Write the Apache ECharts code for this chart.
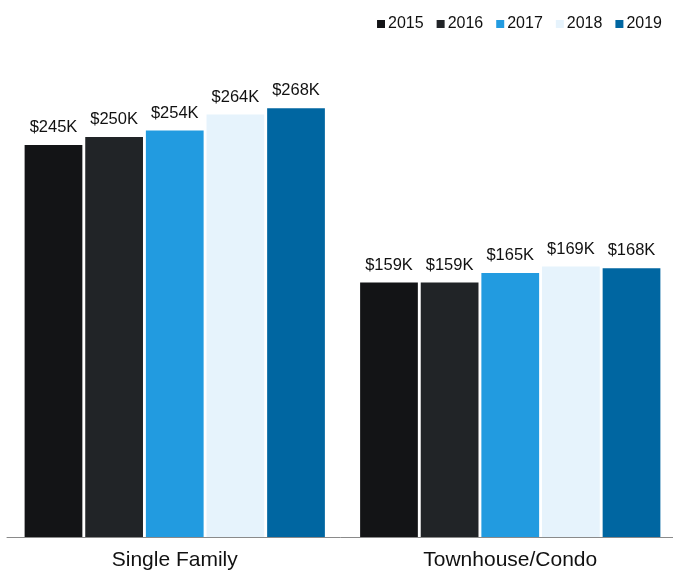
<!DOCTYPE html>
<html><head><meta charset="utf-8">
<script src="https://cdn.jsdelivr.net/npm/echarts@6/dist/echarts.min.js"></script>
<style>html,body{margin:0;padding:0;background:#fff}#c{width:673px;height:572px}</style>
</head><body><div id="c"></div>
<script>
const categories = ['Single Family', 'Townhouse/Condo'];
const years = ['2015', '2016', '2017', '2018', '2019'];
const v2015 = [245, 159];
const v2016 = [250, 159];
const v2017 = [254, 165];
const v2018 = [264, 169];
const v2019 = [268, 168];
const seriesValues = [v2015, v2016, v2017, v2018, v2019];
const colors = ['#131416', '#212427', '#229be0', '#e6f3fc', '#0066a1'];

const chart = echarts.init(document.getElementById('c'), null, {renderer: 'canvas'});
chart.setOption({
  animation: false,
  textStyle: {fontFamily: 'Liberation Sans, Arial, sans-serif'},
  legend: {
    top: 11, right: 6,
    itemWidth: 8, itemHeight: 8, itemGap: 13,
    icon: 'rect',
    textStyle: {fontSize: 16, color: '#111', padding: [0, 0, 0, -2]},
    data: years
  },
  grid: {left: 7, width: 671, top: 57, bottom: 35, containLabel: false, outerBoundsMode: 'none'},
  xAxis: {
    type: 'category', data: categories,
    axisLine: {lineStyle: {color: '#8a8a8a', width: 1}},
    axisTick: {show: false},
    axisLabel: {fontSize: 21, color: '#111', margin: 13}
  },
  yAxis: {type: 'value', min: 0, max: 300, show: false, splitLine: {show: false}},
  series: years.map((y, i) => ({
    name: y, type: 'bar', data: seriesValues[i],
    barCategoryGap: '10.5%', barGap: '5%',
    itemStyle: {color: colors[i]},
    label: {show: true, position: 'top', distance: 9, fontSize: 16.5, color: '#111',
      formatter: p => '$' + p.value + 'K'}
  }))
});
</script></body></html>
